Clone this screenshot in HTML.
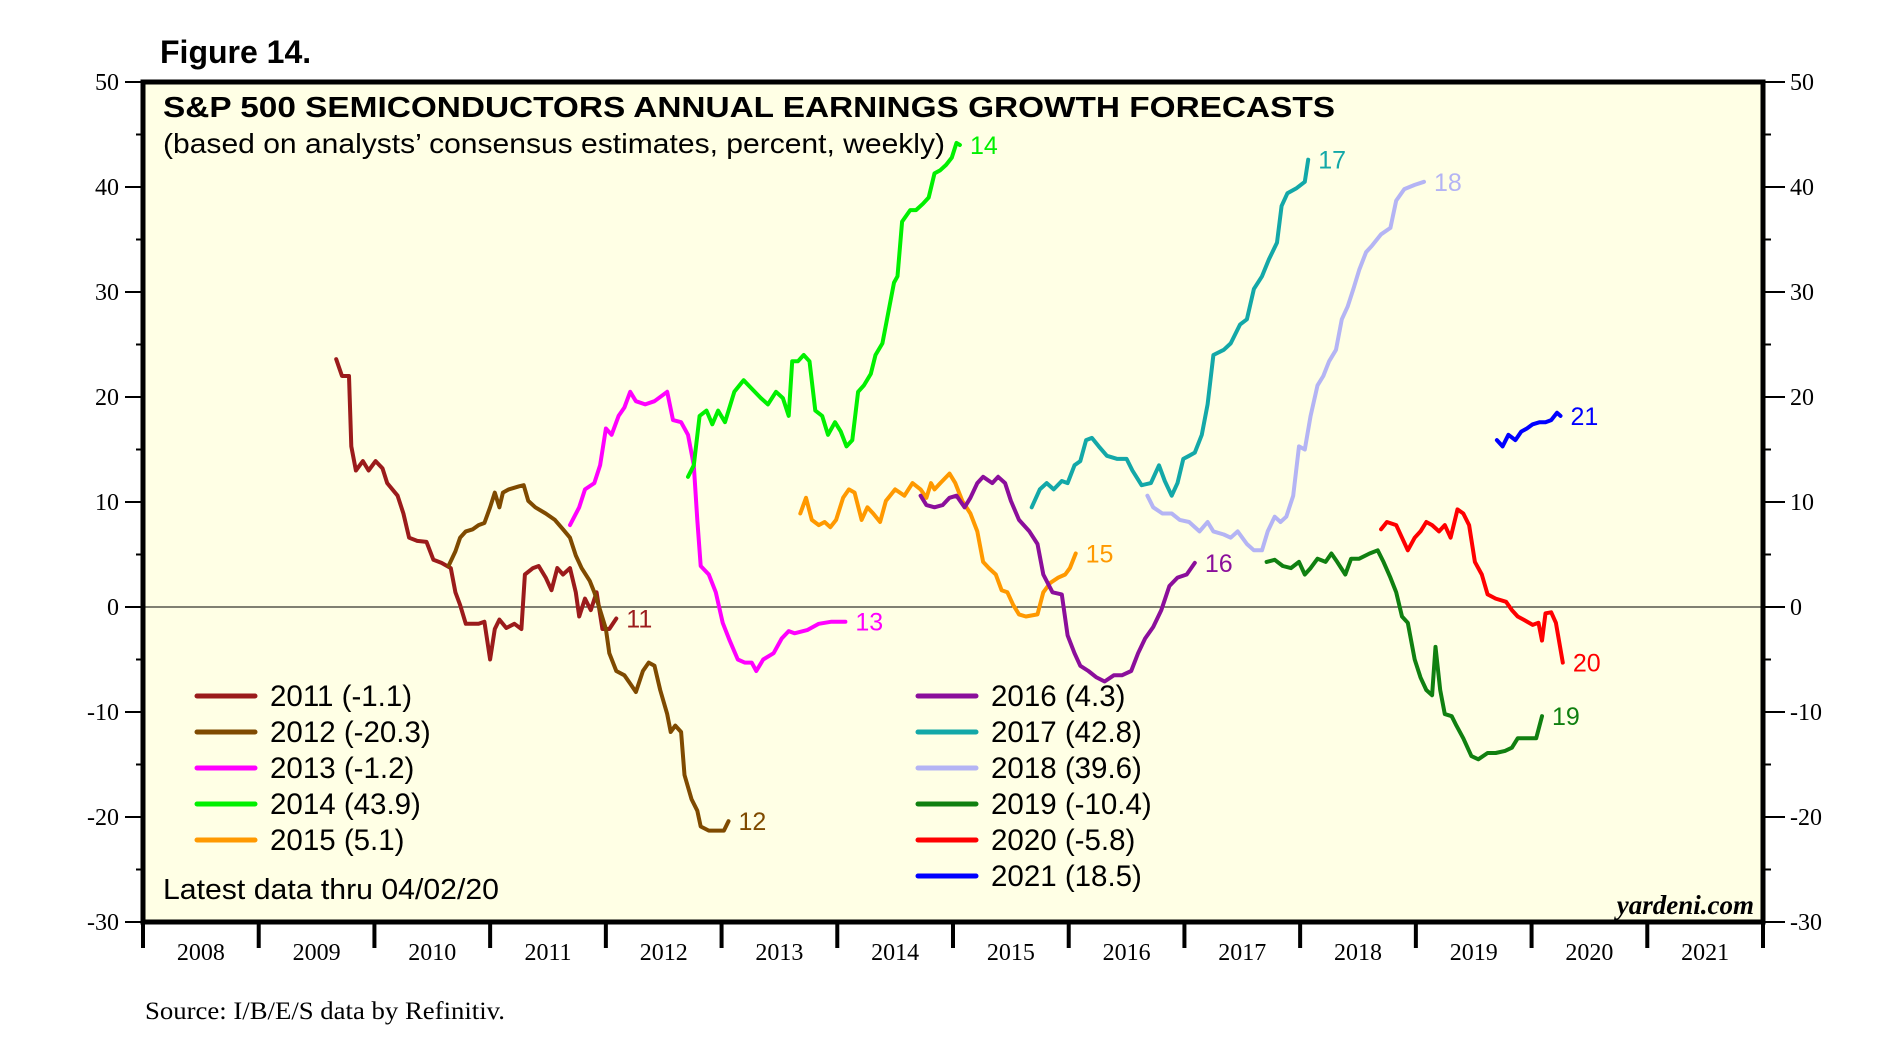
<!DOCTYPE html>
<html><head><meta charset="utf-8"><style>
body{margin:0;background:#fff;width:1902px;height:1054px;overflow:hidden}
svg{display:block}
</style></head><body>
<svg id="chart" width="1902" height="1054" xmlns="http://www.w3.org/2000/svg"></svg>
<script>
// ---- data (x = years since 2008, y = percent) ----
const baseYear = 2008;
const yTicks = [50,40,30,20,10,0,-10,-20,-30];
const yearLabels = ["2008","2009","2010","2011","2012","2013","2014","2015","2016","2017","2018","2019","2020","2021"];
const seriesNames = ["2011","2012","2013","2014","2015","2016","2017","2018","2019","2020","2021"];
const latestValues = ["-1.1","-20.3","-1.2","43.9","5.1","4.3","42.8","39.6","-10.4","-5.8","18.5"];
const endLabels = ["11","12","13","14","15","16","17","18","19","20","21"];
const colors = ["#9B1B1B","#7F4A00","#FF00FF","#00F000","#FF9900","#8B0F9B","#13A8A8","#B4B4F4","#108010","#FF0000","#0000FF"];

const t2011=[1.67,1.72,1.78,1.80,1.84,1.90,1.95,2.01,2.07,2.11,2.20,2.25,2.30,2.37,2.45,2.51,2.58,2.66,2.70,2.74,2.79,2.90,2.95,3.00,3.04,3.08,3.14,3.21,3.27,3.30,3.37,3.42,3.48,3.53,3.58,3.63,3.69,3.74,3.77,3.82,3.87,3.92,3.97,4.03,4.09];
const v2011=[23.6,22,22,15.3,13,13.9,13,13.9,13.2,11.8,10.6,8.9,6.6,6.3,6.2,4.5,4.2,3.7,1.4,0.2,-1.6,-1.6,-1.4,-5,-2.1,-1.2,-2,-1.6,-2.1,3.1,3.7,3.9,2.8,1.6,3.7,3.1,3.7,1.4,-0.9,0.8,-0.3,1.4,-2.1,-2.1,-1.1];
const t2012=[2.64,2.70,2.74,2.79,2.85,2.90,2.95,3.00,3.04,3.08,3.11,3.16,3.25,3.29,3.33,3.39,3.48,3.56,3.63,3.69,3.74,3.79,3.86,3.90,3.95,4.00,4.03,4.09,4.16,4.21,4.26,4.32,4.37,4.42,4.47,4.53,4.56,4.60,4.65,4.68,4.74,4.79,4.82,4.89,4.97,5.02,5.06];
const v2012=[3.9,5.3,6.6,7.2,7.4,7.8,8,9.5,10.9,9.5,10.9,11.2,11.5,11.6,10.1,9.5,8.9,8.3,7.4,6.6,4.9,3.7,2.5,1.4,-0.3,-2.1,-4.4,-6.1,-6.5,-7.3,-8.1,-6.1,-5.3,-5.6,-7.9,-10.2,-11.9,-11.3,-11.9,-16,-18.3,-19.4,-20.9,-21.3,-21.3,-21.3,-20.4];
const t2013=[3.69,3.77,3.82,3.90,3.95,4.00,4.05,4.11,4.16,4.21,4.26,4.34,4.42,4.53,4.58,4.65,4.71,4.76,4.79,4.82,4.89,4.95,5.01,5.07,5.14,5.20,5.26,5.30,5.36,5.45,5.52,5.58,5.63,5.74,5.84,5.95,6.07];
const v2013=[7.8,9.5,11.2,11.8,13.5,17,16.4,18.2,19,20.5,19.6,19.3,19.6,20.5,17.8,17.6,16.4,13.5,8.3,3.9,3.1,1.4,-1.5,-3.2,-5,-5.3,-5.3,-6.1,-5,-4.4,-3,-2.3,-2.5,-2.2,-1.6,-1.4,-1.4];
const t2014=[4.71,4.76,4.81,4.87,4.92,4.97,5.03,5.11,5.19,5.26,5.34,5.40,5.47,5.53,5.58,5.61,5.66,5.71,5.76,5.81,5.87,5.92,5.98,6.03,6.08,6.13,6.18,6.23,6.29,6.33,6.39,6.44,6.49,6.52,6.56,6.63,6.68,6.74,6.79,6.84,6.89,6.94,6.99,7.03,7.06];
const v2014=[12.4,13.5,18.2,18.7,17.4,18.7,17.6,20.5,21.6,20.8,19.9,19.3,20.5,19.9,18.2,23.4,23.4,24,23.4,18.7,18.2,16.4,17.6,16.7,15.3,15.9,20.5,21.1,22.2,24,25.1,28,30.9,31.5,36.7,37.8,37.8,38.4,39,41.3,41.6,42.1,42.8,44.2,44];
const t2015=[5.68,5.73,5.78,5.84,5.89,5.94,5.99,6.05,6.10,6.15,6.21,6.26,6.31,6.37,6.42,6.50,6.58,6.65,6.72,6.77,6.81,6.84,6.89,6.97,7.02,7.08,7.15,7.21,7.26,7.31,7.37,7.42,7.47,7.52,7.57,7.63,7.73,7.78,7.84,7.91,7.97,8.01,8.06];
const v2015=[8.9,10.4,8.3,7.8,8.1,7.6,8.3,10.4,11.2,10.9,8.3,9.5,8.9,8.1,10.1,11.2,10.6,11.8,11.2,10.4,11.8,11.2,11.8,12.7,11.8,10.1,8.9,7.2,4.3,3.7,3.1,1.6,1.4,0.2,-0.7,-0.9,-0.7,1.4,2.3,2.8,3.1,3.7,5.1];
const t2016=[6.72,6.77,6.84,6.91,6.97,7.03,7.10,7.15,7.21,7.26,7.34,7.39,7.45,7.50,7.57,7.66,7.73,7.78,7.86,7.94,7.99,8.05,8.10,8.17,8.24,8.31,8.39,8.46,8.54,8.60,8.66,8.73,8.80,8.87,8.94,9.02,9.09];
const v2016=[10.6,9.7,9.5,9.7,10.4,10.6,9.5,10.4,11.8,12.4,11.8,12.4,11.8,10.1,8.3,7.2,6,3.1,1.4,1.2,-2.7,-4.4,-5.6,-6.1,-6.7,-7.1,-6.5,-6.5,-6.1,-4.4,-3,-1.9,-0.3,2,2.8,3.1,4.2];
const t2017=[7.68,7.75,7.81,7.87,7.94,7.99,8.05,8.10,8.15,8.20,8.26,8.33,8.42,8.50,8.55,8.63,8.71,8.78,8.83,8.89,8.94,8.99,9.04,9.09,9.15,9.20,9.25,9.34,9.40,9.48,9.54,9.60,9.67,9.73,9.80,9.84,9.89,9.97,10.04,10.07];
const v2017=[9.5,11.2,11.8,11.2,12,11.8,13.5,13.9,15.9,16.1,15.3,14.4,14.1,14.1,13,11.6,11.8,13.5,12,10.6,11.8,14.1,14.4,14.7,16.4,19.3,24,24.5,25.1,26.9,27.4,30.3,31.5,33.1,34.7,38.2,39.4,39.9,40.5,42.6];
const t2018=[8.68,8.73,8.81,8.89,8.96,9.04,9.13,9.20,9.25,9.34,9.40,9.46,9.54,9.60,9.67,9.72,9.78,9.83,9.88,9.94,9.99,10.04,10.09,10.15,10.20,10.25,10.31,10.36,10.41,10.46,10.51,10.57,10.62,10.70,10.78,10.83,10.90,10.99,11.07];
const v2018=[10.6,9.5,8.9,8.9,8.3,8.1,7.2,8.1,7.2,6.9,6.6,7.2,6,5.4,5.4,7.2,8.6,8.1,8.6,10.6,15.3,15,18.2,21.1,22,23.4,24.5,27.4,28.6,30.3,32.1,33.8,34.4,35.5,36.1,38.7,39.8,40.2,40.5];
const t2019=[9.71,9.78,9.85,9.92,9.99,10.04,10.09,10.15,10.22,10.27,10.32,10.39,10.44,10.51,10.60,10.67,10.72,10.78,10.83,10.88,10.93,10.99,11.04,11.09,11.14,11.17,11.21,11.25,11.31,11.35,11.41,11.48,11.54,11.62,11.69,11.77,11.83,11.88,11.96,12.04,12.09];
const v2019=[4.3,4.5,3.9,3.7,4.3,3.1,3.7,4.6,4.3,5.1,4.3,3.1,4.6,4.6,5.1,5.4,4.3,2.8,1.4,-0.9,-1.5,-5,-6.7,-7.9,-8.4,-3.8,-7.9,-10.2,-10.4,-11.3,-12.5,-14.2,-14.5,-13.9,-13.9,-13.7,-13.4,-12.5,-12.5,-12.5,-10.4];
const t2020=[10.70,10.75,10.83,10.88,10.93,10.99,11.04,11.09,11.14,11.20,11.25,11.30,11.36,11.41,11.46,11.51,11.57,11.62,11.69,11.78,11.83,11.88,11.93,12.01,12.06,12.09,12.12,12.17,12.21,12.27];
const v2020=[7.4,8.1,7.8,6.6,5.4,6.6,7.2,8.1,7.8,7.2,7.8,6.6,9.3,8.9,7.8,4.3,3.1,1.2,0.8,0.5,-0.3,-0.9,-1.2,-1.7,-1.5,-3.2,-0.6,-0.5,-1.5,-5.3];
const t2021=[11.70,11.75,11.80,11.86,11.91,11.96,12.01,12.07,12.12,12.17,12.22,12.25];
const v2021=[15.9,15.3,16.4,15.9,16.7,17,17.4,17.6,17.6,17.8,18.5,18.2];

const allT=[t2011,t2012,t2013,t2014,t2015,t2016,t2017,t2018,t2019,t2020,t2021];
const allV=[v2011,v2012,v2013,v2014,v2015,v2016,v2017,v2018,v2019,v2020,v2021];

// ---- layout ----
const L=143,R=1763,T=82,B=922;
const yMin=-30,yMax=50,nYears=14;
const xs=t=>L+t*(R-L)/nYears;
const ys=v=>T+(yMax-v)*(B-T)/(yMax-yMin);
const NS="http://www.w3.org/2000/svg";
const svg=document.getElementById('chart');
function mk(tag,attrs,parent){const e=document.createElementNS(NS,tag);for(const k in attrs)e.setAttribute(k,attrs[k]);(parent||svg).appendChild(e);return e;}
function txt(s,attrs,parent){const e=mk('text',attrs,parent);e.textContent=s;return e;}

let el=txt("Figure 14.",{x:160,y:63,'font-family':'Liberation Sans, sans-serif','font-size':32,'font-weight':'bold',fill:'#000'});



el=mk('rect',{x:L,y:T,width:R-L,height:B-T,fill:'#FFFFE5'});



el=mk('line',{x1:L,x2:R,y1:ys(0),y2:ys(0),stroke:'#000','stroke-width':1});



const axL=mk('g',{});


const axR=mk('g',{});


for(let v=yMin;v<=yMax;v+=5){
  const y=ys(v);const major=(v%10===0);
  mk('line',{x1:major?125:136,x2:L,y1:y,y2:y,stroke:'#000','stroke-width':2},axL);
  mk('line',{x1:R,x2:major?1785:1771,y1:y,y2:y,stroke:'#000','stroke-width':2},axR);
}
yTicks.forEach(v=>{
  const y=ys(v);
  el=txt(String(v),{x:119,y:y+8,'text-anchor':'end','font-family':'Liberation Serif, serif','font-size':24,fill:'#000'},axL);
  
  
  el=txt(String(v),{x:1790,y:y+8,'font-family':'Liberation Serif, serif','font-size':24,fill:'#000'},axR);
  
  
});

const axX=mk('g',{});


for(let i=0;i<=nYears;i++){mk('line',{x1:xs(i),x2:xs(i),y1:B,y2:948,stroke:'#000','stroke-width':4},axX);}
yearLabels.forEach((s,i)=>{
  el=txt(s,{x:xs(i+0.5),y:960,'text-anchor':'middle','font-family':'Liberation Serif, serif','font-size':24,fill:'#000'},axX);
  
  
});

allT.forEach((ts,si)=>{
  const vs=allV[si];
  const d=ts.map((t,i)=>(i?'L':'M')+xs(t).toFixed(1)+','+ys(vs[i]).toFixed(1)).join(' ');
  const p=mk('path',{d:d,fill:'none',stroke:colors[si],'stroke-width':4,'stroke-linejoin':'round','stroke-linecap':'round'});
  
  
  const lt=ts[ts.length-1],lv=vs[vs.length-1];
  const lb=txt(endLabels[si],{x:xs(lt)+10,y:ys(lv)+9,'font-family':'Liberation Sans, sans-serif','font-size':25,fill:colors[si]});
  
  
});

el=mk('rect',{x:L,y:T,width:R-L,height:B-T,fill:'none',stroke:'#000','stroke-width':5});



el=txt("S&P 500 SEMICONDUCTORS ANNUAL EARNINGS GROWTH FORECASTS",{x:163,y:117,'font-family':'Liberation Sans, sans-serif','font-size':29,'font-weight':'bold',fill:'#000',textLength:1172,lengthAdjust:'spacingAndGlyphs'});


el=txt("(based on analysts\u2019 consensus estimates, percent, weekly)",{x:163,y:153,'font-family':'Liberation Sans, sans-serif','font-size':28,fill:'#000',textLength:782,lengthAdjust:'spacingAndGlyphs'});



const lg=mk('g',{});


seriesNames.forEach((n,i)=>{
  const col=i<5?0:1,row=i<5?i:i-5;
  const x0=col?918:197,y0=696+row*36;
  const g=mk('g',{},lg);
  
  
  mk('line',{x1:x0,x2:x0+58,y1:y0,y2:y0,stroke:colors[i],'stroke-width':5,'stroke-linecap':'round'},g);
  txt(n+" ("+latestValues[i]+")",{x:x0+73,y:y0+10,'font-family':'Liberation Sans, sans-serif','font-size':29.5,fill:'#000'},g);
});

el=txt("Latest data thru 04/02/20",{x:163,y:899,'font-family':'Liberation Sans, sans-serif','font-size':29,fill:'#000',textLength:336,lengthAdjust:'spacingAndGlyphs'});


el=txt("yardeni.com",{x:1754,y:914,'text-anchor':'end','font-family':'Liberation Serif, serif','font-size':27,'font-weight':'bold','font-style':'italic',fill:'#000'});


el=txt("Source: I/B/E/S data by Refinitiv.",{x:145,y:1019,'font-family':'Liberation Serif, serif','font-size':25,fill:'#000',textLength:360,lengthAdjust:'spacingAndGlyphs'});


</script>
</body></html>
